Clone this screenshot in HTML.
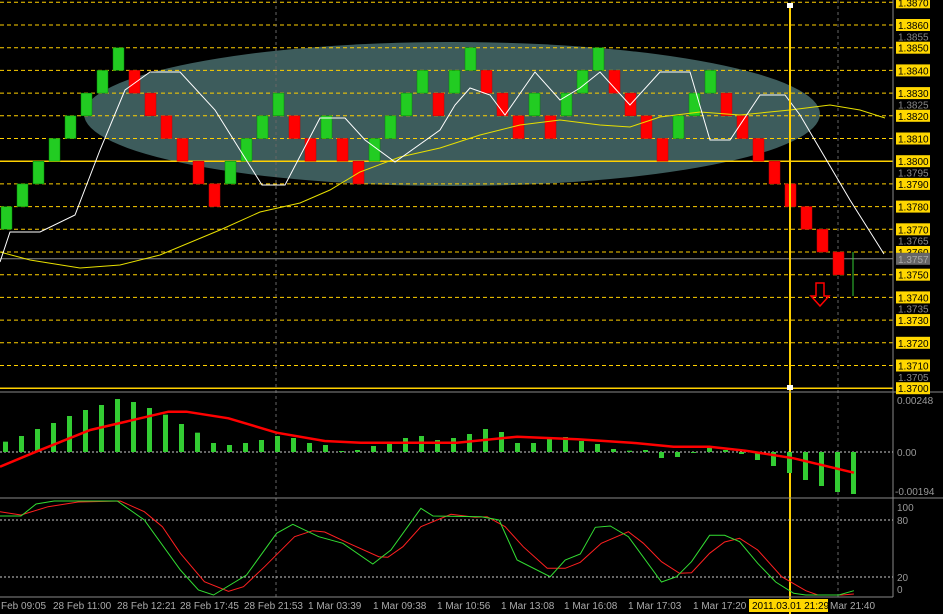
<!DOCTYPE html>
<html><head><meta charset="utf-8"><style>
body{margin:0;background:#000;width:943px;height:614px;overflow:hidden}
svg{display:block}
text{font-family:"Liberation Sans",sans-serif;font-size:10px}
</style></head><body>
<svg id="s" width="943" height="614" xmlns="http://www.w3.org/2000/svg"></svg>
<script>
const s=document.getElementById('s');let h='';
const Y=p=>25+(1.3860-p)*22700;
h+='<rect width="943" height="614" fill="#000"/>';
h+='<ellipse cx="452" cy="114" rx="368" ry="72" fill="#3d5c5c"/>';
for(let i=0;i<=17;i++){const p=1.3700+i*0.001,y=Y(p).toFixed(1);
 if(i==10||i==0){h+=`<line x1="0" x2="893" y1="${y}" y2="${y}" stroke="#ffd000" stroke-width="1.5"/>`}
 else h+=`<line x1="0" x2="893" y1="${y}" y2="${y}" stroke="#ffd000" stroke-dasharray="4,3"/>`;}
h+=`<line x1="0" x2="893" y1="${Y(1.3757)}" y2="${Y(1.3757)}" stroke="#888"/>`;
[276,838].forEach(x=>{h+=`<line x1="${x}" x2="${x}" y1="0" y2="597" stroke="#666" stroke-dasharray="3,3"/>`});
const b=[[0,1.3770],[0,1.378],[0,1.379],[0,1.38],[0,1.381],[0,1.382],[0,1.383],[0,1.384],
[1,1.383],[1,1.382],[1,1.381],[1,1.38],[1,1.379],[1,1.378],[0,1.379],[0,1.38],[0,1.381],[0,1.382],
[1,1.381],[1,1.38],[0,1.381],[1,1.38],[1,1.379],[0,1.38],[0,1.381],[0,1.382],[0,1.383],[1,1.382],
[0,1.383],[0,1.384],[1,1.383],[1,1.382],[1,1.381],[0,1.382],[1,1.381],[0,1.382],[0,1.383],[0,1.384],
[1,1.383],[1,1.382],[1,1.381],[1,1.38],[0,1.381],[0,1.382],[0,1.383],[1,1.382],[1,1.381],[1,1.38],
[1,1.379],[1,1.378],[1,1.377],[1,1.376],[1,1.375]];
b.forEach((v,k)=>{const x=1+16*k,y=Y(v[1]+0.001);
 h+=`<rect x="${x}" y="${y.toFixed(1)}" width="11" height="22.7" fill="${v[0]?'#ff0000':'#22cc22'}" stroke="${v[0]?'#cc0000':'#008800'}" stroke-width="0.5"/>`;});
h+=`<line x1="853" x2="853" y1="252" y2="296" stroke="#33cc33"/>`;
const pl=(pts,c,w)=>`<polyline points="${pts.map(p=>p.join(',')).join(' ')}" fill="none" stroke="${c}" stroke-width="${w}"/>`;
h+=pl([[0,252],[30,260],[80,268],[120,265],[160,255],[220,230],[260,212],[300,203],[330,190],[360,172],[400,157],[440,148],[480,135],[520,125],[560,120],[600,125],[630,127],[660,117],[700,112],[740,115],[790,110],[830,105],[860,110],[885,118]],'#e8e000',1);
h+=pl([[0,262],[10,232],[40,232],[75,215],[100,150],[125,90],[150,72],[180,72],[215,110],[240,150],[262,185],[285,185],[320,118],[345,118],[365,140],[395,162],[440,130],[455,105],[470,88],[490,95],[505,115],[535,72],[560,100],[580,88],[600,72],[630,105],[660,72],[690,72],[710,140],[730,140],[760,95],[785,95],[800,115],[850,200],[884,254]],'#fff',1);
h+=`<path d="M816,283h8v13h5l-9,10l-9,-10h5z" fill="none" stroke="#f00" stroke-width="1.5"/>`;
h+=`<line x1="790" x2="790" y1="5" y2="614" stroke="#ffd000" stroke-width="2"/><rect x="787" y="3" width="6" height="5" fill="#fff"/><rect x="787" y="385" width="6" height="5" fill="#fff"/>`;
h+=`<line x1="0" x2="943" y1="392" y2="392" stroke="#888"/><line x1="0" x2="943" y1="498" y2="498" stroke="#888"/><line x1="893" x2="893" y1="0" y2="597" stroke="#888"/><line x1="0" x2="893" y1="597" y2="597" stroke="#888"/>`;
for(let i=0;i<=17;i++){const p=1.3700+i*0.001,y=Y(p);
 h+=`<rect x="896" y="${(y-6).toFixed(1)}" width="34" height="12" fill="#ffd700"/><text x="898" y="${(y+4).toFixed(1)}" fill="#000">${p.toFixed(4)}</text>`;}
[1.3855,1.3825,1.3795,1.3765,1.3735,1.3705].forEach(p=>{const y=Y(p);h+=`<text x="898" y="${(y+4).toFixed(1)}" fill="#888">${p.toFixed(4)}</text>`});
{const y=Y(1.3757);h+=`<rect x="896" y="${y-6}" width="34" height="12" fill="#666"/><text x="898" y="${y+4}" fill="#aaa">1.3757</text>`;}
h+=`<line x1="0" x2="893" y1="452" y2="452" stroke="#ccc" stroke-dasharray="2,2"/>`;
const z=[185,168,147,129,108,90,75,57,66,84,104,132,158,189,195,189,180,168,174,189,195,213,210,198,190,174,168,180,174,162,147,156,189,189,174,171,183,192,207,212,210,234,231,219,204,210,222,240,258,279,300,318,336,342];
z.forEach((v,k)=>{const x=3+16*k;const hh=(216-v)/3;h+=`<rect x="${x}" y="${hh>0?452-hh:452}" width="5" height="${Math.abs(hh)}" fill="#33cc33"/>`});
const cv=(a,f)=>a.map(p=>[(p[0]/1.663).toFixed(1),f(p[1])]);
h+=pl(cv([[0,260],[60,215],[150,150],[280,95],[310,95],[380,115],[460,158],[540,183],[600,188],[760,188],[860,170],[960,178],[1050,188],[1120,200],[1180,200],[1240,212],[1320,235],[1420,278]],v=>(380+v/3).toFixed(1)),'#ff0000',2.5);
h+=`<text x="897" y="404" fill="#999">0.00248</text><text x="897" y="456" fill="#999">0.00</text><text x="895" y="495" fill="#999">-0.00194</text>`;
h+=`<line x1="0" x2="893" y1="520" y2="520" stroke="#ccc" stroke-dasharray="2,2"/><line x1="0" x2="893" y1="577" y2="577" stroke="#ccc" stroke-dasharray="2,2"/>`;
const sf=v=>(380+v/3).toFixed(1);
h+=pl(cv([[0,395],[35,405],[80,380],[130,366],[200,363],[240,395],[270,440],[300,520],[340,605],[380,634],[405,620],[440,560],[490,470],[520,452],[540,456],[580,490],[630,530],[645,532],[670,500],[700,440],[750,403],[790,412],[810,410],[840,440],[870,500],[910,565],[940,565],[965,547],[1000,490],[1045,455],[1070,490],[1100,545],[1130,580],[1150,578],[1180,520],[1205,486],[1230,475],[1260,510],[1300,590],[1340,632],[1360,645],[1400,645],[1420,642]],sf),'#ff2020',1);
h+=pl(cv([[0,408],[35,408],[60,372],[90,363],[195,363],[240,420],[300,570],[330,630],[355,645],[410,585],[460,460],[487,433],[530,470],[570,490],[620,552],[650,510],[700,385],[720,408],[800,410],[830,420],[860,540],[915,590],[940,540],[965,522],[990,442],[1015,438],[1045,470],[1100,606],[1125,590],[1150,545],[1180,466],[1205,466],[1230,485],[1260,550],[1290,606],[1320,640],[1340,645],[1395,645],[1420,632]],sf),'#33dd33',1);
h+=`<text x="897" y="511" fill="#999">100</text><text x="897" y="524" fill="#999">80</text><text x="897" y="581" fill="#999">20</text><text x="897" y="593" fill="#999">0</text>`;
[["Feb 09:05",1],["28 Feb 11:00",53],["28 Feb 12:21",117],["28 Feb 17:45",180],["28 Feb 21:53",244],["1 Mar 03:39",308],["1 Mar 09:38",373],["1 Mar 10:56",437],["1 Mar 13:08",501],["1 Mar 16:08",564],["1 Mar 17:03",628],["1 Mar 17:20",693],["Mar 21:40",830]].forEach(t=>{h+=`<text x="${t[1]}" y="609" fill="#aaa">${t[0]}</text>`});
h+=`<rect x="749" y="599" width="79" height="13" fill="#ffd700"/><text x="752" y="609" fill="#000">2011.03.01 21:29</text>`;
s.innerHTML=h;
</script></body></html>
